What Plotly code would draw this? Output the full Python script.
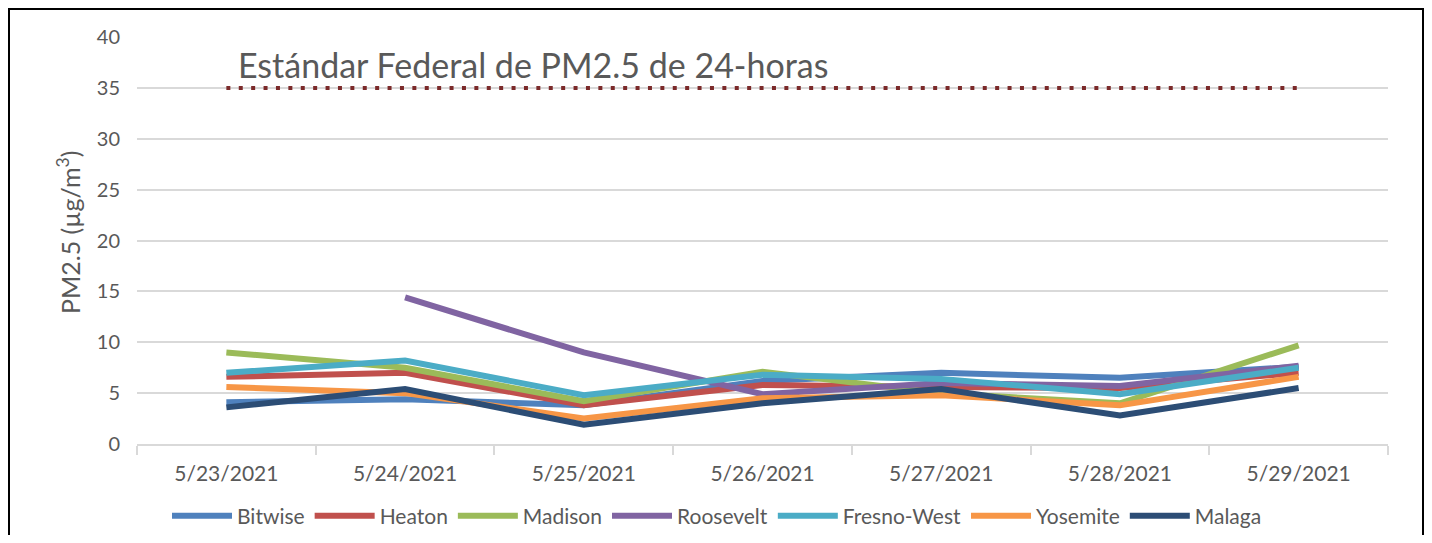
import plotly.graph_objects as go

dates = ["5/23/2021", "5/24/2021", "5/25/2021", "5/26/2021", "5/27/2021", "5/28/2021", "5/29/2021"]

bitwise = [4.1, 4.4, 3.8, 6.2, 7.0, 6.5, 7.6]
heaton = [6.6, 7.0, 3.8, 5.8, 5.6, 5.5, 7.0]
madison = [9.0, 7.5, 4.2, 7.1, 5.0, 4.0, 9.7]
roosevelt = [None, 14.4, 9.0, 4.9, 6.0, 5.7, 7.7]
fresno_west = [7.0, 8.2, 4.8, 6.8, 6.4, 4.9, 7.5]
yosemite = [5.6, 5.0, 2.5, 4.5, 4.8, 3.8, 6.6]
malaga = [3.6, 5.4, 1.9, 4.0, 5.4, 2.8, 5.5]

standard = [35, 35, 35, 35, 35, 35, 35]

series = [
    ("Bitwise", bitwise, "#4F81BD"),
    ("Heaton", heaton, "#C0504D"),
    ("Madison", madison, "#9BBB59"),
    ("Roosevelt", roosevelt, "#8064A2"),
    ("Fresno-West", fresno_west, "#4BACC6"),
    ("Yosemite", yosemite, "#F79646"),
    ("Malaga", malaga, "#2C4D75"),
]

FONT = "Lato"
GRAY = "#595959"

fig = go.Figure()

fig.add_trace(go.Scatter(
    x=dates, y=standard, mode="lines", showlegend=False, hoverinfo="skip",
    line=dict(color="#7B2A2A", width=4, dash="4px,8.4px"),
))

for name, vals, color in series:
    fig.add_trace(go.Scatter(
        x=dates, y=vals, mode="lines", name=name,
        line=dict(color=color, width=6),
    ))

OFF = 8  # page body margin
W, H = 1416, 527
L, T = 137 - OFF, 37 - OFF
R = W - (1388 - OFF)
B = H - (444 - OFF)
pw, ph = W - L - R, H - T - B

def px(xp):
    return (xp - OFF - L) / pw

def py(yp):
    return (H - B - (yp - OFF)) / ph

fig.update_layout(
    width=W, height=H,
    margin=dict(l=L, r=R, t=T, b=B, autoexpand=False),
    paper_bgcolor="white", plot_bgcolor="white",
    font=dict(family=FONT, color=GRAY, size=20),
    legend=dict(
        orientation="h", x=px(717), xanchor="center", y=py(516), yanchor="middle",
        font=dict(size=21, color=GRAY), itemwidth=60, tracegroupgap=0,
    ),
    xaxis=dict(
        type="category", range=[-0.5, 6.5], showgrid=False, showline=True,
        linecolor="#d9d9d9", linewidth=2,
        ticks="outside", tickson="boundaries", ticklen=9, tickcolor="#d9d9d9", tickwidth=2,
        ticklabelstandoff=10, tickfont=dict(size=21, color=GRAY),
    ),
    yaxis=dict(
        range=[0, 40], tickvals=[0, 5, 10, 15, 20, 25, 30, 35, 40],
        showgrid=True, gridcolor="#d9d9d9", gridwidth=2, zeroline=False,
        ticks="", ticklabelstandoff=16, tickfont=dict(size=20, color=GRAY),
    ),
    annotations=[
        dict(text="Estándar Federal de PM2.5 de 24-horas", xref="paper", yref="paper",
             x=px(236), y=py(64), xanchor="left", yanchor="middle", showarrow=False,
             font=dict(size=34, color=GRAY, family=FONT)),
        dict(text="PM2.5 (µg/m<sup>3</sup>)", xref="paper", yref="paper",
             x=px(68), y=py(233), xanchor="center", yanchor="middle", textangle=-90,
             showarrow=False, font=dict(size=25, color=GRAY, family=FONT)),
    ],
    shapes=[
        dict(type="rect", xref="paper", yref="paper",
             x0=px(9), x1=px(1423), y0=py(600), y1=py(9),
             line=dict(color="black", width=2), fillcolor="rgba(0,0,0,0)", layer="below"),
    ],
)

fig.write_html("out.html")
